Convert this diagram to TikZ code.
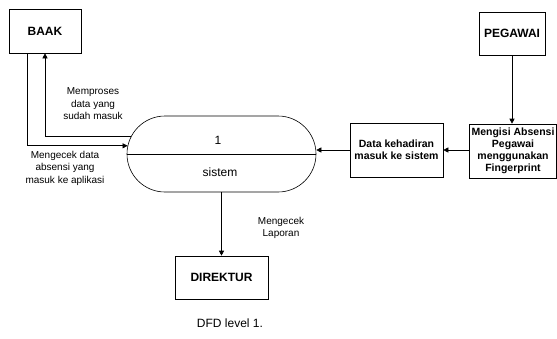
\documentclass[tikz,border=0pt]{standalone}
\usepackage{fontspec}
\setmainfont{Liberation Sans}
\usetikzlibrary{arrows.meta, positioning, shapes.misc}

\begin{document}
\begin{tikzpicture}[x=1pt, y=-1pt, line width=0.6pt, >={Triangle[length=5pt, width=5pt]},
    entity/.style={draw, rectangle, inner sep=2pt, font=\fontsize{12}{14}\selectfont\bfseries},
    datastore/.style={draw, rectangle, align=center, inner sep=2pt, font=\fontsize{10.5}{12}\selectfont\bfseries},
    flowlabel/.style={align=center, font=\fontsize{10}{12.5}\selectfont}]
    \useasboundingbox (0,0) rectangle (557,338);
    \node[entity, minimum width=72pt, minimum height=44pt] (baak) at (45,31) {BAAK};
    \node[entity, minimum width=66pt, minimum height=43pt] (pegawai) at (512,33.5) {PEGAWAI};
    \node[entity, minimum width=93pt, minimum height=43pt] (direktur) at (221.5,277.5) {DIREKTUR};

    \node[draw, rounded rectangle, minimum width=189pt, minimum height=76pt, inner sep=0pt] (proc) at (221.5,154) {};
    \draw (proc.west) -- (proc.east);
    \node[font=\fontsize{12}{14}\selectfont] (proc_no) at (218,140) {1};
    \node[font=\fontsize{12}{14}\selectfont] (proc_name) at (220,172) {sistem};

    \node[datastore, minimum width=93pt, minimum height=54pt] (data_masuk) at (396.5,150) {Data kehadiran\\masuk ke sistem};
    \node[datastore, minimum width=86pt, minimum height=54pt] (mengisi) at (513,151) {Mengisi Absensi\\Pegawai\\menggunakan\\Fingerprint};

    \draw[->] (pegawai.south) -- (pegawai.south |- mengisi.north);
    \draw[->] (mengisi.west |- data_masuk.east) -- (data_masuk.east);
    \draw[->] (data_masuk.west) -- (data_masuk.west -| proc.east);
    \draw[->] (proc.south) -- (direktur.north);
    \draw[->] ([xshift=-18pt]baak.south) |- (proc.175);
    \draw[->] (proc.169) -| (baak.south);

    \node[flowlabel] (lbl_proses) at (93,104) {Memproses\\data yang\\sudah masuk};
    \node[flowlabel] (lbl_cek) at (65,168) {Mengecek data\\absensi yang\\masuk ke aplikasi};
    \node[flowlabel] (lbl_laporan) at (281,228) {Mengecek\\Laporan};
    \node[font=\fontsize{12}{14}\selectfont] (caption) at (230,323) {DFD level 1.};
\end{tikzpicture}
\end{document}
